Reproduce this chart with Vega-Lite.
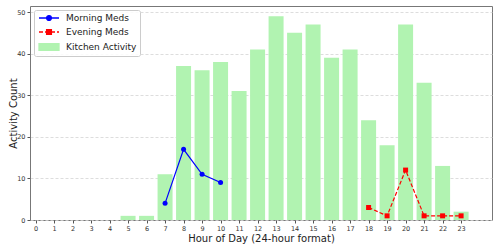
{
  "$schema": "https://vega.github.io/schema/vega-lite/v6.json",
  "width": 462,
  "height": 214,
  "autosize": "none",
  "padding": {"left": 30, "top": 6, "right": 6, "bottom": 29},
  "background": "white",
  "config": {
    "font": "DejaVu Sans",
    "view": {"stroke": "#777", "strokeWidth": 1},
    "axis": {
      "labelFont": "DejaVu Sans",
      "titleFont": "DejaVu Sans",
      "labelFontSize": 6.5,
      "labelColor": "#333",
      "titleFontSize": 10,
      "titleFontWeight": "normal",
      "titleColor": "#222",
      "tickColor": "#555",
      "tickSize": 3,
      "labelPadding": 2,
      "domain": false
    }
  },
  "data": {
    "values": [
      {"hour": 5, "count": 1, "series": "Kitchen Activity"},
      {"hour": 6, "count": 1, "series": "Kitchen Activity"},
      {"hour": 7, "count": 11, "series": "Kitchen Activity"},
      {"hour": 8, "count": 37, "series": "Kitchen Activity"},
      {"hour": 9, "count": 36, "series": "Kitchen Activity"},
      {"hour": 10, "count": 38, "series": "Kitchen Activity"},
      {"hour": 11, "count": 31, "series": "Kitchen Activity"},
      {"hour": 12, "count": 41, "series": "Kitchen Activity"},
      {"hour": 13, "count": 49, "series": "Kitchen Activity"},
      {"hour": 14, "count": 45, "series": "Kitchen Activity"},
      {"hour": 15, "count": 47, "series": "Kitchen Activity"},
      {"hour": 16, "count": 39, "series": "Kitchen Activity"},
      {"hour": 17, "count": 41, "series": "Kitchen Activity"},
      {"hour": 18, "count": 24, "series": "Kitchen Activity"},
      {"hour": 19, "count": 18, "series": "Kitchen Activity"},
      {"hour": 20, "count": 47, "series": "Kitchen Activity"},
      {"hour": 21, "count": 33, "series": "Kitchen Activity"},
      {"hour": 22, "count": 13, "series": "Kitchen Activity"},
      {"hour": 23, "count": 2, "series": "Kitchen Activity"},
      {"hour": 7, "count": 4, "series": "Morning Meds"},
      {"hour": 8, "count": 17, "series": "Morning Meds"},
      {"hour": 9, "count": 11, "series": "Morning Meds"},
      {"hour": 10, "count": 9, "series": "Morning Meds"},
      {"hour": 18, "count": 3, "series": "Evening Meds"},
      {"hour": 19, "count": 1, "series": "Evening Meds"},
      {"hour": 20, "count": 12, "series": "Evening Meds"},
      {"hour": 21, "count": 1, "series": "Evening Meds"},
      {"hour": 22, "count": 1, "series": "Evening Meds"},
      {"hour": 23, "count": 1, "series": "Evening Meds"}
    ]
  },
  "encoding": {
    "x": {
      "field": "hour",
      "type": "quantitative",
      "scale": {"domain": [-0.03, 24.4], "nice": false, "zero": false},
      "axis": {
        "title": "Hour of Day (24-hour format)",
        "values": [0,1,2,3,4,5,6,7,8,9,10,11,12,13,14,15,16,17,18,19,20,21,22,23],
        "format": "d",
        "grid": false,
        "titlePadding": 2
      }
    },
    "y": {
      "field": "count",
      "type": "quantitative",
      "scale": {"domain": [0, 51.45], "nice": false},
      "axis": {
        "title": "Activity Count",
        "values": [0, 10, 20, 30, 40, 50],
        "grid": true,
        "gridColor": "#d4d4d4",
        "gridDash": [3, 2],
        "gridWidth": 0.8,
        "titlePadding": -2
      }
    },
    "color": {
      "field": "series",
      "type": "nominal",
      "scale": {
        "domain": ["Morning Meds", "Evening Meds", "Kitchen Activity"],
        "range": ["#0000ff", "#ff0000", "#b1f3b1"]
      },
      "legend": {
        "title": null,
        "orient": "top-left",
        "offset": 4,
        "padding": 3,
        "fillColor": "rgba(255,255,255,0.85)",
        "strokeColor": "#cccccc",
        "cornerRadius": 2,
        "labelFont": "DejaVu Sans",
        "labelFontSize": 9,
        "labelColor": "#222",
        "labelOffset": 19,
        "symbolSize": 64,
        "symbolStrokeWidth": 1.3,
        "rowPadding": 4,
        "encode": {
          "symbols": {
            "update": {
              "shape": {"signal": "datum.value == 'Morning Meds' ? 'M-0.75,0H4.25M2.35,0A0.6,0.6,0,1,1,1.15,0A0.6,0.6,0,1,1,2.35,0Z' : (datum.value == 'Evening Meds' ? 'M-0.75,0H0.25M0.75,0H1.75M2.25,0H3.25M3.75,0H4.25M1.15,-0.6H2.35V0.6H1.15Z' : 'M-0.75,-0.85H4.25V0.85H-0.75Z')"},
              "fill": {"scale": "color", "field": "value"},
              "stroke": {"scale": "color", "field": "value"},
              "strokeDash": {"value": []},
              "opacity": {"value": 1},
              "strokeWidth": {"value": 1.3}
            }
          }
        }
      }
    }
  },
  "layer": [
    {
      "transform": [{"filter": "datum.series == 'Kitchen Activity'"}],
      "mark": {"type": "bar", "size": 15}
    },
    {
      "transform": [{"filter": "datum.series == 'Morning Meds'"}],
      "mark": {"type": "line", "strokeWidth": 1.2}
    },
    {
      "transform": [{"filter": "datum.series == 'Evening Meds'"}],
      "mark": {"type": "line", "strokeWidth": 1.2, "strokeDash": [4, 2]}
    },
    {
      "transform": [{"filter": "datum.series == 'Morning Meds'"}],
      "mark": {"type": "point", "shape": "circle", "filled": true, "opacity": 1, "size": 25}
    },
    {
      "transform": [{"filter": "datum.series == 'Evening Meds'"}],
      "mark": {"type": "point", "shape": "square", "filled": true, "opacity": 1, "size": 25}
    }
  ]
}
